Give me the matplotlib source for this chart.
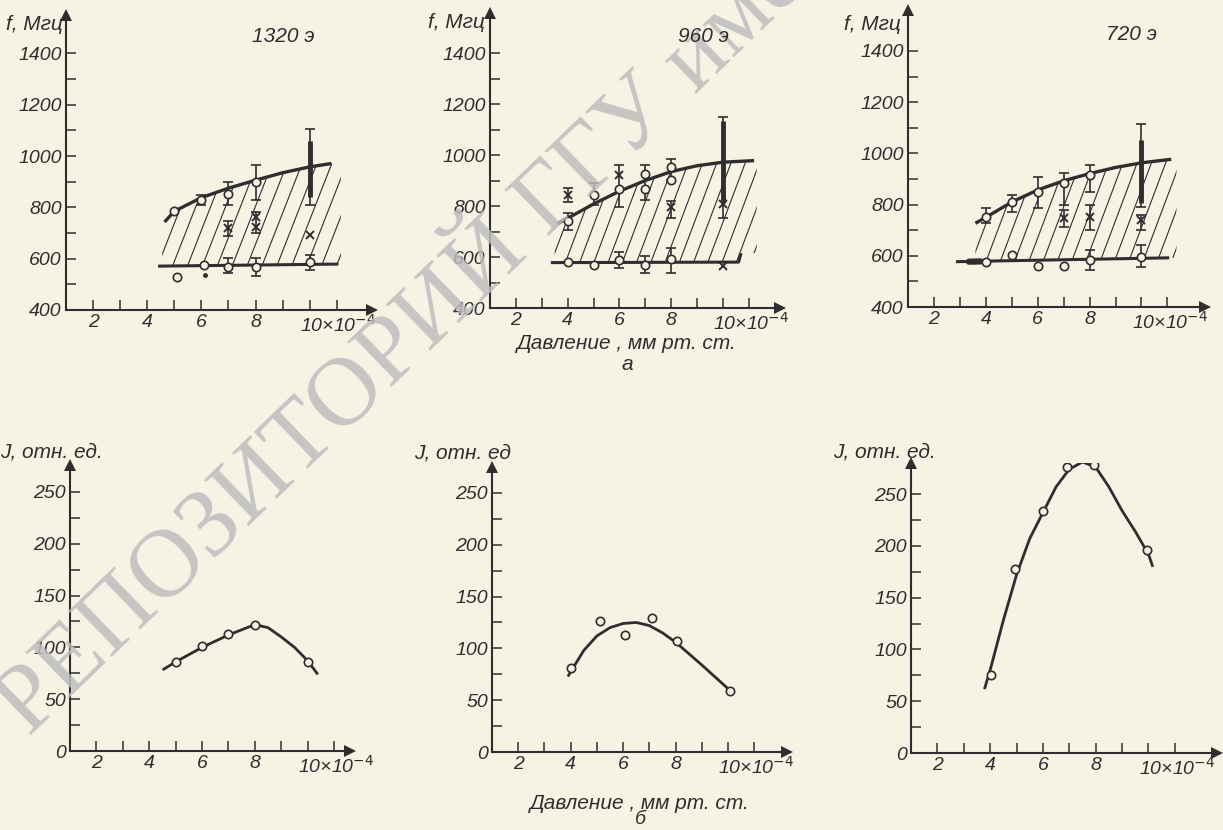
import numpy as np
import matplotlib.pyplot as plt
from matplotlib.patches import Polygon

W, H = 1223, 830
BG = '#f6f3e5'
INK = '#2e2e2e'
FONT = ['Liberation Sans', 'DejaVu Sans']

# ---------- top row: f, MHz vs pressure (x 1e-4 mm Hg) ----------
# 1320 э
a_up_x = [4.64, 5, 6, 7, 8, 9, 10, 10.8]
a_up_y = [743, 785, 838, 875, 906, 935, 958, 971]
a_lo_x = [4.4, 11.06]
a_lo_y = [571, 579]
a_circ_x = [5, 6, 7, 8, 5.1, 6.1, 7, 8, 10]
a_circ_y = [785, 828, 854, 900, 530, 575, 569, 569, 588]
a_cross_x = [7, 8, 8, 10]
a_cross_y = [718, 763, 725, 692]
a_dot_x = [6.15]
a_dot_y = [536]
a_err_x = [6, 7, 8, 7, 8, 7, 8, 10, 10]
a_err_lo = [808, 808, 828, 690, 700, 544, 533, 556, 808]
a_err_hi = [850, 900, 964, 745, 783, 602, 602, 614, 1105]
a_thick_x = [10]
a_thick_lo = [840]
a_thick_hi = [1060]

# 960 э
b_up_x = [3.6, 4, 5, 6, 7, 8, 9, 10, 11.2]
b_up_y = [730, 752, 808, 858, 900, 935, 958, 972, 978]
b_lo_x = [3.35, 10.6, 10.7]
b_lo_y = [578, 580, 615]
b_circ_x = [4, 5, 6, 7, 7, 8, 8, 4, 5, 6, 7, 8]
b_circ_y = [740, 845, 866, 926, 866, 953, 902, 580, 569, 590, 567, 594]
b_cross_x = [4, 6, 8, 10, 10]
b_cross_y = [843, 921, 796, 808, 566]
b_err_x = [4, 4, 5, 6, 7, 8, 8, 6, 7, 8, 10]
b_err_lo = [816, 706, 804, 796, 823, 902, 753, 557, 538, 538, 753]
b_err_hi = [870, 772, 890, 961, 961, 984, 818, 620, 603, 635, 1149]
b_thick_x = [10]
b_thick_lo = [810]
b_thick_hi = [1135]

# 720 э
c_up_x = [3.6, 4, 5, 6, 7, 8, 9, 10, 11.15]
c_up_y = [727, 750, 810, 857, 893, 921, 945, 963, 977]
c_lo_x = [2.85, 11.07]
c_lo_y = [577, 592]
c_circ_x = [4, 5, 6, 7, 8, 4, 5, 6, 7, 8, 10]
c_circ_y = [753, 811, 850, 884, 916, 577, 603, 561, 561, 584, 596]
c_cross_x = [7, 8, 10]
c_cross_y = [748, 753, 740]
c_blob_x = [3.35, 3.8]
c_blob_y = [577, 578]
c_err_x = [4, 5, 6, 7, 8, 7, 8, 10, 8, 10, 10]
c_err_lo = [728, 771, 786, 798, 850, 712, 700, 700, 545, 556, 790]
c_err_hi = [787, 838, 909, 923, 955, 779, 798, 759, 623, 642, 1115]
c_thick_x = [10]
c_thick_lo = [806]
c_thick_hi = [1052]

# ---------- bottom row: J, rel. units vs pressure ----------
d_pt_x = [5, 6, 7, 8, 10]
d_pt_y = [86, 101, 113, 122, 86]
d_cv_x = [4.55, 5, 6, 7, 8, 8.5, 9, 9.5, 10, 10.35]
d_cv_y = [79, 86, 100, 112, 122, 119, 110, 100, 87, 75]

e_pt_x = [4.01, 5.13, 6.08, 7.1, 8.06, 10.06]
e_pt_y = [81, 126, 113, 129, 107, 59]
e_cv_x = [3.92, 4.5, 5, 5.5, 6, 6.5, 7, 7.5, 8, 9, 10.05]
e_cv_y = [74, 98, 112, 120, 124, 125, 122, 115, 106, 84, 60]

f_pt_x = [4.04, 4.94, 6.0, 6.93, 7.92, 9.95]
f_pt_y = [75, 178, 234, 276, 278, 196]
f_cv_x = [3.8, 4, 4.5, 5, 5.5, 6, 6.5, 7, 7.5, 8, 8.5, 9, 9.5, 10, 10.15]
f_cv_y = [63, 80, 128, 172, 207, 232, 257, 274, 281, 276, 257, 234, 214, 192, 181]

fig = plt.figure(figsize=(W / 100, H / 100), dpi=100, facecolor=BG)


def fx(x):
    return x / W


def fy(y):
    return 1 - y / H


def px_axes(l, r, b, t):
    ax = fig.add_axes([l / W, 1 - b / H, (r - l) / W, (b - t) / H])
    ax.patch.set_visible(False)
    return ax


def frame(ax, xmax, ylo, yhi, ymaj, ymin):
    ax.set_xlim(1, xmax)
    ax.set_ylim(ylo, yhi)
    for s in ('top', 'right'):
        ax.spines[s].set_visible(False)
    for s in ('left', 'bottom'):
        ax.spines[s].set_linewidth(1.5)
        ax.spines[s].set_color(INK)
    ax.set_xticks(range(2, 12))
    ax.set_xticklabels([str(v) if v in (2, 4, 6, 8) else '' for v in range(2, 12)])
    ax.set_yticks(ymaj)
    ax.set_yticks(ymin, minor=True)
    ax.tick_params(which='both', direction='in', length=7, width=1.1,
                   color=INK, labelcolor=INK, labelsize=14, pad=3)
    for lab in ax.get_xticklabels() + ax.get_yticklabels():
        lab.set_fontstyle('italic')
        lab.set_family(FONT)
    ax.plot(1, 0, '>', transform=ax.transAxes, clip_on=False, ms=8, color=INK, mew=0)
    ax.plot(0, 1, '^', transform=ax.transAxes, clip_on=False, ms=8, color=INK, mew=0)
    ax.annotate('10×10$^{-4}$', xy=(10, ylo), xytext=(-7, -3), textcoords='offset points',
                ha='left', va='top', fontsize=14, style='italic', family=FONT, color=INK)


def hatch(ax, ux, uy, lx, ly, x0, x1, slope=270, step=0.55):
    xs = np.linspace(x0, x1, 200)
    top = np.interp(xs, ux, uy)
    bot = np.interp(xs, lx, ly)
    poly = Polygon(np.column_stack([np.r_[xs, xs[::-1]], np.r_[top, bot[::-1]]]),
                   closed=True, fc='none', ec='none')
    ax.add_patch(poly)
    for s in np.arange(x0 - 3, x1 + 0.5, step):
        ln, = ax.plot([s, s + 1200 / slope], [400, 1600], color=INK, lw=0.8)
        ln.set_clip_path(poly)


def top_panel(box, xmax, ymax, up, lo, circ, cross, err, thick, hx):
    ax = px_axes(*box)
    frame(ax, xmax, 400, ymax, range(400, 1401, 200), range(500, 1401, 200))
    hatch(ax, up[0], up[1], lo[0], lo[1], hx[0], hx[1])
    ax.plot(up[0], up[1], color=INK, lw=2.4, solid_capstyle='butt')
    ax.plot(lo[0], lo[1], color=INK, lw=2.2, solid_capstyle='butt')
    ax.vlines(err[0], err[1], err[2], color=INK, lw=1.2, zorder=3)
    ax.plot(err[0], err[1], '_', color=INK, ms=7, mew=1.2, zorder=3)
    ax.plot(err[0], err[2], '_', color=INK, ms=7, mew=1.2, zorder=3)
    ax.vlines(thick[0], thick[1], thick[2], color=INK, lw=3.5, zorder=3)
    ax.plot(circ[0], circ[1], 'o', mfc=BG, mec=INK, ms=6, mew=1.2, zorder=4)
    ax.plot(cross[0], cross[1], 'x', color=INK, ms=6, mew=1.4, zorder=4)
    return ax


ax1 = top_panel((66, 372, 310, 15), 12.3, 1550, (a_up_x, a_up_y), (a_lo_x, a_lo_y),
                (a_circ_x, a_circ_y), (a_cross_x, a_cross_y),
                (a_err_x, a_err_lo, a_err_hi), (a_thick_x, a_thick_lo, a_thick_hi), (4.55, 11.15))
ax1.plot(a_dot_x, a_dot_y, 'o', color=INK, ms=2.5)

ax2 = top_panel((490, 780, 308, 13), 12.2, 1557, (b_up_x, b_up_y), (b_lo_x, b_lo_y),
                (b_circ_x, b_circ_y), (b_cross_x, b_cross_y),
                (b_err_x, b_err_lo, b_err_hi), (b_thick_x, b_thick_lo, b_thick_hi), (3.5, 11.3))

ax3 = top_panel((908, 1205, 307, 10), 12.45, 1560, (c_up_x, c_up_y), (c_lo_x, c_lo_y),
                (c_circ_x, c_circ_y), (c_cross_x, c_cross_y),
                (c_err_x, c_err_lo, c_err_hi), (c_thick_x, c_thick_lo, c_thick_hi), (3.6, 11.35))
ax3.plot(c_blob_x, c_blob_y, color=INK, lw=4.5, solid_capstyle='round')


def bottom_panel(box, xmax, ymax, px, py, cx, cy):
    ax = px_axes(*box)
    frame(ax, xmax, 0, ymax, range(0, 251, 50), range(25, 251, 50))
    ax.plot(cx, cy, color=INK, lw=2.0)
    ax.plot(px, py, 'o', mfc=BG, mec=INK, ms=6, mew=1.2, zorder=4)
    return ax


bottom_panel((70, 350, 751, 465), 11.6, 276, d_pt_x, d_pt_y, d_cv_x, d_cv_y)
bottom_panel((492, 787, 752, 467), 12.25, 275, e_pt_x, e_pt_y, e_cv_x, e_cv_y)
bottom_panel((911, 1217, 753, 463), 12.6, 280, f_pt_x, f_pt_y, f_cv_x, f_cv_y)

txt = dict(style='italic', family=FONT, color=INK, fontsize=15)
fig.text(fx(63), fy(25), 'f, Мгц', ha='right', va='center', **txt)
fig.text(fx(485), fy(23), 'f, Мгц', ha='right', va='center', **txt)
fig.text(fx(901), fy(25), 'f, Мгц', ha='right', va='center', **txt)
fig.text(fx(283), fy(37), '1320 э', ha='center', va='center', **txt)
fig.text(fx(703), fy(37), '960 э', ha='center', va='center', **txt)
fig.text(fx(1131), fy(34), '720 э', ha='center', va='center', **txt)
fig.text(fx(627), fy(343), 'Давление , мм рт. ст.', ha='center', va='center', **txt)
fig.text(fx(627), fy(365), 'а', ha='center', va='center', **txt)
fig.text(fx(0), fy(452), 'J, отн. ед.', ha='left', va='center', **txt)
fig.text(fx(462), fy(453), 'J, отн. ед', ha='center', va='center', **txt)
fig.text(fx(884), fy(452), 'J, отн. ед.', ha='center', va='center', **txt)
fig.text(fx(640), fy(803), 'Давление , мм рт. ст.', ha='center', va='center', **txt)
fig.text(fx(640), fy(819), 'б', ha='center', va='center', **dict(txt, fontsize=14))

# repository watermark
fig.text(fx(29), fy(738), 'РЕПОЗИТОРИЙ ГГУ имени Ф. Скорины', rotation=44,
         rotation_mode='anchor', ha='left', va='baseline', fontsize=70,
         family=['Liberation Serif', 'DejaVu Serif'], color='#bdbdbd', alpha=0.85, zorder=0.5)

fig.savefig('out.png', dpi=100, facecolor=BG)
